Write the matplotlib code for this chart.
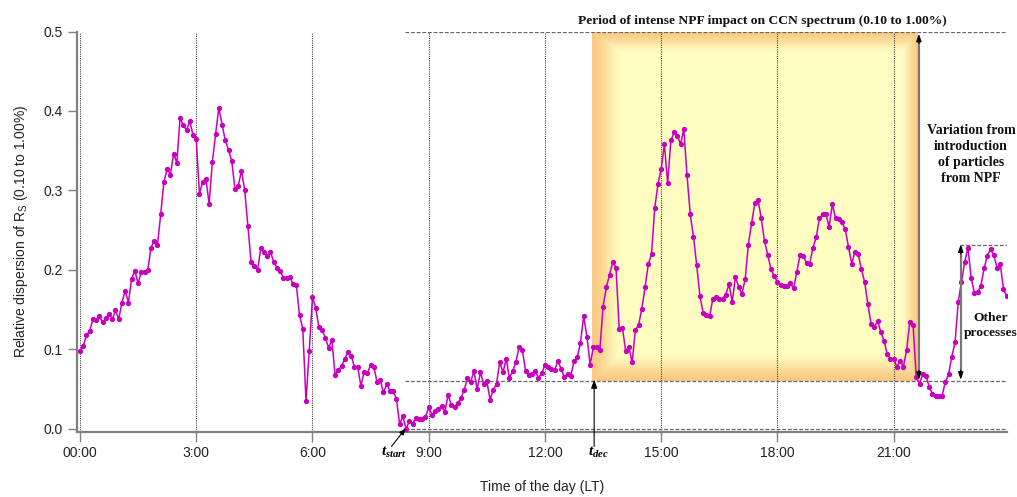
import matplotlib
matplotlib.use("Agg")
import matplotlib.pyplot as plt
import numpy as np

# 5-minute samples over the day
minutes = np.arange(0, 1440, 5)
rs_disp = [
    0.0985, 0.104, 0.118, 0.123, 0.138, 0.137, 0.142, 0.134, 0.139, 0.145, 0.138, 0.149,
    0.138, 0.159, 0.174, 0.159, 0.189, 0.199, 0.183, 0.198, 0.198, 0.200, 0.228, 0.237,
    0.231, 0.270, 0.311, 0.327, 0.320, 0.346, 0.335, 0.391, 0.382, 0.376, 0.387, 0.370,
    0.365, 0.296, 0.311, 0.315, 0.283, 0.336, 0.371, 0.404, 0.383, 0.363, 0.351, 0.337,
    0.302, 0.305, 0.325, 0.301, 0.255, 0.210, 0.205, 0.200, 0.227, 0.222, 0.218, 0.223,
    0.210, 0.203, 0.199, 0.190, 0.190, 0.191, 0.182, 0.181, 0.143, 0.126, 0.035, 0.098,
    0.166, 0.152, 0.128, 0.124, 0.115, 0.102, 0.112, 0.068, 0.074, 0.079, 0.088, 0.097,
    0.092, 0.078, 0.078, 0.054, 0.072, 0.070, 0.080, 0.078, 0.059, 0.061, 0.046, 0.056,
    0.048, 0.048, 0.038, 0.006, 0.016, 0.000, 0.010, 0.006, 0.014, 0.013, 0.013, 0.015,
    0.027, 0.018, 0.023, 0.025, 0.029, 0.021, 0.043, 0.030, 0.028, 0.032, 0.039, 0.049,
    0.064, 0.059, 0.073, 0.050, 0.071, 0.057, 0.060, 0.037, 0.049, 0.057, 0.084, 0.071,
    0.088, 0.064, 0.073, 0.084, 0.103, 0.099, 0.073, 0.068, 0.069, 0.073, 0.064, 0.070,
    0.081, 0.078, 0.075, 0.074, 0.085, 0.076, 0.065, 0.069, 0.067, 0.085, 0.090, 0.108,
    0.142, 0.116, 0.081, 0.103, 0.103, 0.099, 0.154, 0.178, 0.194, 0.210, 0.203, 0.126,
    0.127, 0.098, 0.103, 0.084, 0.124, 0.131, 0.151, 0.178, 0.207, 0.220, 0.278, 0.308,
    0.327, 0.358, 0.309, 0.363, 0.373, 0.369, 0.358, 0.377, 0.319, 0.270, 0.242, 0.206,
    0.167, 0.146, 0.143, 0.142, 0.164, 0.166, 0.164, 0.164, 0.169, 0.182, 0.160, 0.191,
    0.179, 0.170, 0.188, 0.232, 0.259, 0.284, 0.288, 0.265, 0.236, 0.219, 0.201, 0.192,
    0.185, 0.181, 0.180, 0.180, 0.183, 0.177, 0.197, 0.219, 0.218, 0.209, 0.208, 0.228,
    0.241, 0.265, 0.270, 0.270, 0.254, 0.283, 0.265, 0.264, 0.260, 0.251, 0.229, 0.208,
    0.223, 0.220, 0.201, 0.185, 0.157, 0.132, 0.128, 0.136, 0.122, 0.111, 0.094, 0.088,
    0.088, 0.078, 0.086, 0.078, 0.099, 0.135, 0.131, 0.065, 0.057, 0.069, 0.067, 0.053,
    0.044, 0.042, 0.041, 0.042, 0.059, 0.069, 0.091, 0.109, 0.160, 0.185, 0.210, 0.228,
    0.190, 0.171, 0.172, 0.180, 0.202, 0.218, 0.226, 0.219, 0.203, 0.208, 0.176, 0.167,
]
tick_hours = [0, 3, 6, 9, 12, 15, 18, 21]
tick_labels = ["00:00", "3:00", "6:00", "9:00", "12:00", "15:00", "18:00", "21:00"]
y_ticks = [0.0, 0.1, 0.2, 0.3, 0.4, 0.5]

t_start, t_dec, t_end_npf = 8.41, 13.21, 21.6
level_dec, level_top, level_other = 0.06, 0.5, 0.232

plt.rcParams['font.family'] = ['Liberation Sans', 'DejaVu Sans']
plt.rcParams['mathtext.fontset'] = 'custom'
plt.rcParams['mathtext.it'] = 'Liberation Serif:italic:bold'
plt.rcParams['mathtext.rm'] = 'Liberation Serif:bold'

fig = plt.figure(figsize=(10.17, 4.97), dpi=100)
ax = fig.add_axes([0.0757, 0.1314, 0.9143, 0.8052])

hours = minutes / 60.0
xmin, xmax = -0.077, 23.92
ymin, ymax = -0.0035, 0.5

# glowing NPF box
W, H = 326, 348
ii = np.arange(W)[None, :].astype(float)
jj = np.arange(H)[:, None].astype(float)
f = np.minimum.reduce([
    np.broadcast_to(ii / 30.0, (H, W)),
    np.broadcast_to((W - ii) / 18.0, (H, W)),
    np.broadcast_to(jj / 22.0, (H, W)),
    np.broadcast_to((H - jj) / 30.0, (H, W)),
])
f = np.clip(f, 0, 1)
f = f * f * (3 - 2 * f)
edge = np.array([250, 202, 132]) / 255.0
centre = np.array([255, 253, 194]) / 255.0
img = edge[None, None, :] + (centre - edge)[None, None, :] * f[:, :, None]
ax.imshow(img, extent=[t_dec, t_end_npf, level_dec, level_top], origin='upper',
          aspect='auto', interpolation='bilinear', zorder=0.5)

# vertical grid
ax.vlines(tick_hours, ymin, 0.5, colors='#444444', linestyles=(0, (1, 1)), lw=0.8, zorder=1)

# dashed guides
dash = dict(colors='#666666', linestyles=(0, (3, 1.5)), lw=0.9, zorder=1.5)
ax.hlines([level_top, level_dec], 8.39, xmax, **dash)
ax.hlines(0.0005, 8.39, xmax, **dash)
ax.hlines(level_other, 22.71, xmax, **dash)

ax.plot(hours, rs_disp, color='#C800BE', lw=1.1, marker='o', ms=2.8, zorder=3)

# double arrows: gray shaft, black heads
head = dict(arrowstyle='-|>,head_length=0.45,head_width=0.16', color='black', lw=0.8,
            shrinkA=0, shrinkB=0)
for xa, y0, y1 in [(21.65, 0.062, 0.497), (22.73, 0.062, level_other)]:
    ax.plot([xa, xa], [y0 + 0.004, y1 - 0.004], color='#777777', lw=1.6, zorder=4)
    ax.annotate('', xy=(xa, y1), xytext=(xa, y1 - 0.012), arrowprops=head, zorder=5)
    ax.annotate('', xy=(xa, y0), xytext=(xa, y0 + 0.012), arrowprops=head, zorder=5)

ax.annotate('', xy=(13.27, 0.062), xytext=(13.27, -0.022), annotation_clip=False,
            arrowprops=dict(arrowstyle='-|>,head_length=0.5,head_width=0.18',
                            color='black', lw=0.8, shrinkA=0, shrinkB=0))
ax.annotate('', xy=(8.41, 0.001), xytext=(8.04, -0.022), annotation_clip=False,
            arrowprops=dict(arrowstyle='-|>,head_length=0.4,head_width=0.15',
                            color='black', lw=0.8, shrinkA=0, shrinkB=0))

ax.text(8.1, -0.029, r'$t_{start}$', fontsize=11, ha='center', va='center', clip_on=False)
ax.text(13.37, -0.029, r'$t_{dec}$', fontsize=11, ha='center', va='center', clip_on=False)

serif = dict(family='Liberation Serif', weight='bold', color='#111111')
ax.text(17.6, 0.5136, 'Period of intense NPF impact on CCN spectrum (0.10 to 1.00%)',
        fontsize=9.7, ha='center', va='center', clip_on=False, **serif)
ax.text(23.0, 0.345, 'Variation from\nintroduction\nof particles\nfrom NPF',
        fontsize=10, ha='center', va='center', linespacing=1.3, clip_on=False, **serif)
ax.text(23.5, 0.130, 'Other\nprocesses', fontsize=9.7, ha='center', va='center',
        linespacing=1.3, clip_on=False, **serif)

ax.set_xlim(xmin, xmax)
ax.set_ylim(ymin, ymax)
ax.set_xticks(tick_hours)
ax.set_xticklabels(tick_labels)
ax.set_yticks(y_ticks)
ax.set_yticklabels([f"{v:.1f}" for v in y_ticks])
for s in ['top', 'right']:
    ax.spines[s].set_visible(False)
for s in ['left', 'bottom']:
    ax.spines[s].set_color('#808080')
    ax.spines[s].set_linewidth(1.6)
ax.tick_params(axis='x', direction='out', length=7, width=1, color='#808080',
               labelsize=10, labelcolor='#222222', pad=3.5)
ax.tick_params(axis='y', direction='out', length=6.5, width=1, color='#808080',
               labelsize=10, labelcolor='#222222', pad=3.5)
ax.set_xlabel('Time of the day (LT)', fontsize=10, color='#222222', labelpad=14)
ax.set_ylabel(r'Relative dispersion of R$_\mathregular{S}$ (0.10 to 1.00%)',
              fontsize=10, color='#222222', labelpad=10)

fig.savefig('out.png', dpi=100)
